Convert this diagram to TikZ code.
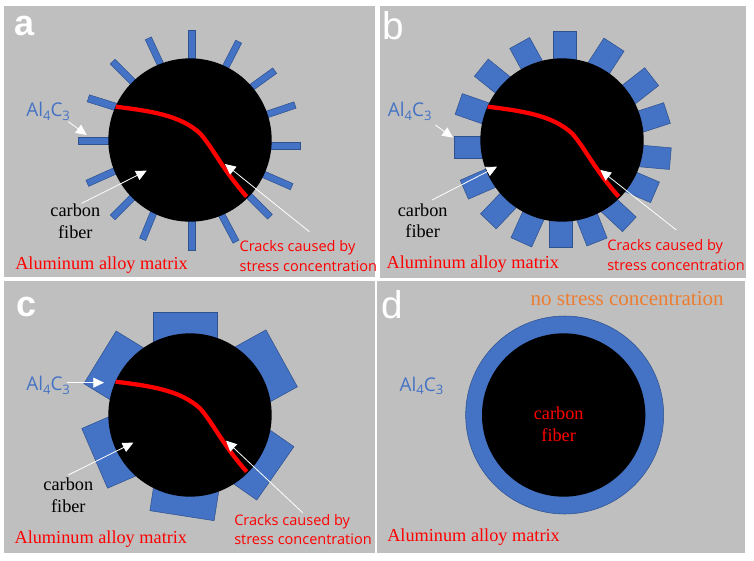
\documentclass[tikz,border=0pt]{standalone}
\usepackage{fontspec}
\setmainfont{Liberation Serif}
\newfontfamily\uifont{Open Sans}
\newfontfamily\headfont{Liberation Sans}
\usetikzlibrary{calc,arrows.meta}
\definecolor{panelgray}{HTML}{BFBFBF}
\definecolor{rayblue}{HTML}{4472C4}
\definecolor{rayline}{HTML}{2F528F}
\definecolor{orangetxt}{HTML}{ED7D31}
\tikzset{
  panel/.style={fill=panelgray,draw=none},
  fibercore/.style={fill=black,draw=none},
  rayshape/.style={fill=rayblue,draw=rayline,line width=.4pt},
  cracksty/.style={draw=red,line width=3.2pt},
  whitearrow/.style={draw=white,line width=.6pt,-{Triangle[length=8pt,width=7.5pt,fill=white]}},
  letterlbl/.style={font=\headfont\fontsize{27}{27}\selectfont\bfseries,text=white,inner sep=0pt},
  letterthin/.style={font=\headfont\fontsize{29}{29}\selectfont,text=white,inner sep=0pt},
  matrixlbl/.style={font=\fontsize{13.7}{15}\selectfont,text=red,inner sep=0pt,anchor=base west},
  fiberlbl/.style={font=\fontsize{13.7}{15}\selectfont,inner sep=0pt,anchor=base},
  cracklbl/.style={font=\uifont\fontsize{10.9}{14}\selectfont,text=red,inner sep=0pt,anchor=base west},
  allbl/.style={font=\uifont\fontsize{14.2}{14}\selectfont,text=rayblue,inner sep=0pt,anchor=base west},
}
\newcommand{\ray}[3]{%
  \coordinate (rA) at (#1);
  \coordinate (rB) at ($(#1)!1.3!(#2)$);
  \draw[rayshape] ($(rA)!#3*0.125pt!90:(rB)$) -- ($(rA)!#3*0.125pt!-90:(rB)$)
     -- ($(rB)!#3*0.125pt!90:(rA)$) -- ($(rB)!#3*0.125pt!-90:(rA)$) -- cycle;}
\newcommand{\crackline}{%
  \draw[cracksty] (347,320) .. controls (450,333) and (540,345) .. (600,400)
     .. controls (640,445) and (665,505) .. (740,590);}
\newcommand{\subdigit}[1]{\raisebox{-2.6pt}{\fontsize{9.8}{10}\selectfont #1}}
\newcommand{\alname}{Al\subdigit{4}C\subdigit{3}}
\begin{document}
\begin{tikzpicture}[x=.25pt,y=-.25pt]
\useasboundingbox (0,0) rectangle (2262,1683);
% ---------- panel a
\begin{scope}
  \fill[panel] (12,18) rectangle (1125,832);
  \ray{576,90}{576,180}{20}\ray{716,125}{680,195}{20}\ray{824,212}{755,262}{20}
  \ray{885,315}{805,342}{20}\ray{902,438}{815,438}{20}\ray{875,560}{795,525}{20}
  \ray{810,650}{750,590}{20}\ray{708,725}{668,650}{20}\ray{576,752}{576,660}{20}
  \ray{428,718}{460,640}{20}\ray{338,652}{395,595}{20}\ray{262,550}{340,515}{20}
  \ray{235,423}{325,423}{20}\ray{265,295}{345,320}{22}\ray{338,185}{398,245}{20}
  \ray{445,115}{480,190}{20}
  \node[fibercore,circle,minimum size=122.5pt,inner sep=0pt] (afib) at (570,420) {};
  \crackline
  \node[letterlbl] (aletter) at (73,78) {a};
  \node[allbl] (aal) at (78,350) {\alname};
  \node[fiberlbl] (afib1) at (226,650) {carbon};
  \node[fiberlbl] (afib2) at (226,715) {fiber};
  \node[matrixlbl] (amat) at (45,808) {Aluminum alloy matrix};
  \node[cracklbl] (acr1) at (718,755) {Cracks caused by};
  \node[cracklbl] (acr2) at (718,815) {stress concentration};
  \coordinate (aA1) at (205,365); \coordinate (aA2) at (260,405);
  \coordinate (aB1) at (245,610); \coordinate (aB2) at (440,512);
  \coordinate (aC1) at (928,695); \coordinate (aC2) at (675,492);
  \draw[whitearrow] (aA1) -- (aA2);
  \draw[whitearrow] (aB1) -- (aB2);
  \draw[whitearrow] (aC1) -- (aC2);
\end{scope}
% ---------- panel b
\begin{scope}[shift={(1131,0)}]
  \fill[panel] (10,18) rectangle (1108,835);
  \ray{563,95}{563,185}{68}\ray{711,134}{668,200}{72}\ray{824,230}{760,280}{68}
  \ray{870,339}{790,365}{65}\ray{880,476}{790,468}{65}\ray{834,577}{760,545}{67}
  \ray{757,673}{695,615}{60}\ray{660,726}{630,650}{65}\ray{552,742}{552,660}{68}
  \ray{433,727}{470,645}{68}\ray{334,664}{395,600}{65}\ray{262,569}{340,535}{62}
  \ray{232,441}{320,441}{66}\ray{245,312}{340,345}{66}\ray{313,203}{390,265}{66}
  \ray{428,129}{470,205}{68}
  \node[fibercore,circle,minimum size=122.5pt,inner sep=0pt] (bfib) at (555,420) {};
  \begin{scope}[shift={(-15,0)}]\crackline\end{scope}
  \node[letterthin] (bletter) at (50,78) {b};
  \node[allbl] (bal) at (32,350) {\alname};
  \node[fiberlbl] (bfib1) at (137,648) {carbon};
  \node[fiberlbl] (bfib2) at (137,713) {fiber};
  \node[matrixlbl] (bmat) at (28,806) {Aluminum alloy matrix};
  \node[cracklbl] (bcr1) at (690,752) {Cracks caused by};
  \node[cracklbl] (bcr2) at (690,812) {stress concentration};
  \coordinate (bA1) at (175,375); \coordinate (bA2) at (228,413);
  \coordinate (bB1) at (165,600); \coordinate (bB2) at (360,500);
  \coordinate (bC1) at (898,690); \coordinate (bC2) at (670,510);
  \draw[whitearrow] (bA1) -- (bA2);
  \draw[whitearrow] (bB1) -- (bB2);
  \draw[whitearrow] (bC1) -- (bC2);
\end{scope}
% ---------- panel c
\begin{scope}[shift={(0,840)}]
  \fill[panel] (12,3) rectangle (1125,820);
  \ray{556,97}{556,200}{193}\ray{845,235}{760,282}{195}\ray{826,580}{757,532}{195}
  \ray{546,707}{558,630}{195}\ray{284,535}{365,500}{195}\ray{300,232}{380,281}{185}
  \node[fibercore,circle,minimum size=122.5pt,inner sep=0pt] (cfib) at (570,405) {};
  \begin{scope}[shift={(0,-15)}]\crackline\end{scope}
  \node[letterlbl] (cletter) at (80,82) {c};
  \node[allbl] (cal) at (78,332) {\alname};
  \node[fiberlbl] (cfib1) at (205,632) {carbon};
  \node[fiberlbl] (cfib2) at (205,697) {fiber};
  \node[matrixlbl] (cmat) at (43,790) {Aluminum alloy matrix};
  \node[cracklbl] (ccr1) at (702,735) {Cracks caused by};
  \node[cracklbl] (ccr2) at (702,793) {stress concentration};
  \coordinate (cA1) at (200,308); \coordinate (cA2) at (312,308);
  \coordinate (cB1) at (205,585); \coordinate (cB2) at (400,488);
  \coordinate (cC1) at (908,698); \coordinate (cC2) at (678,482);
  \draw[whitearrow] (cA1) -- (cA2);
  \draw[whitearrow] (cB1) -- (cB2);
  \draw[whitearrow] (cC1) -- (cC2);
\end{scope}
% ---------- panel d
\begin{scope}[shift={(1131,840)}]
  \fill[panel] (0,3) rectangle (1105,820);
  \node[fill=rayblue,draw=rayline,line width=.4pt,circle,minimum size=148.5pt,inner sep=0pt] (dring) at (563,405) {};
  \node[fibercore,circle,minimum size=122.5pt,inner sep=0pt] (dfib) at (560,405) {};
  \node[letterthin] (dletter) at (45,75) {d};
  \node[allbl] (dal) at (67,333) {\alname};
  \node[fiberlbl,text=red] (dfib1) at (545,418) {carbon};
  \node[fiberlbl,text=red] (dfib2) at (545,483) {fiber};
  \node[matrixlbl] (dmat) at (30,785) {Aluminum alloy matrix};
  \node[matrixlbl,text=orangetxt,font=\fontsize{15.8}{16}\selectfont] (dno) at (460,75) {no stress concentration};
\end{scope}
\end{tikzpicture}
\end{document}
